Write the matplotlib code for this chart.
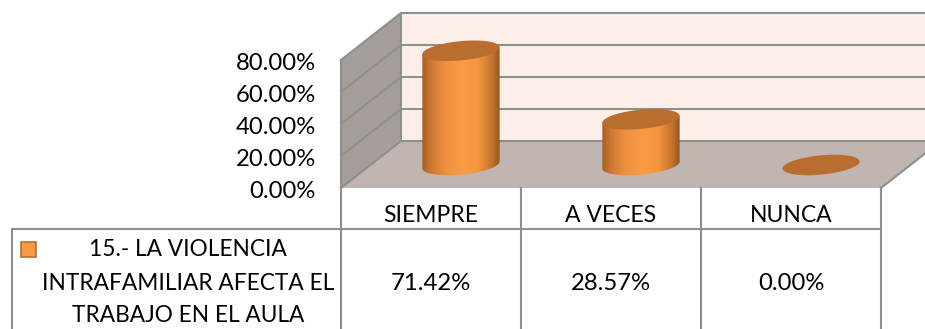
import numpy as np
import matplotlib
matplotlib.use("Agg")
import matplotlib.pyplot as plt
from matplotlib.colors import LinearSegmentedColormap
from matplotlib.patches import Ellipse, Polygon, Rectangle
from matplotlib.path import Path

categories = ["SIEMPRE", "A VECES", "NUNCA"]
values = [71.42, 28.57, 0.0]
value_labels = ["71.42%", "28.57%", "0.00%"]
ticks = [0, 20, 40, 60, 80]
legend_lines = ["15.- LA VIOLENCIA", "INTRAFAMILIAR AFECTA EL", "TRABAJO EN EL AULA"]

plt.rcParams["font.family"] = ["Lato", "DejaVu Sans"]
fs = 16.5
fs_legend = 16.25
fs_num = 17.2

# everything is laid out in image pixels, y going down
fig = plt.figure(figsize=(9.25, 3.29), dpi=100)
ax = fig.add_axes([0, 0, 1, 1])
ax.set_xlim(0, 925)
ax.set_ylim(329, 0)
ax.axis("off")

x0, x1 = 341, 881
floor_y = 188
dx, dy = 60, 47
px_per_unit = 1.6
cell = (x1 - x0) / len(categories)
grey = "#8f8f8f"

wall_top = floor_y - dy - max(ticks) * px_per_unit
back_y = floor_y - dy

# walls and floor
ax.add_patch(Polygon([(x0 + dx, wall_top), (x1 + dx, wall_top), (x1 + dx, back_y), (x0 + dx, back_y)],
                     fc="#fdefe8", ec="none"))
ax.add_patch(Polygon([(x0, floor_y - max(ticks) * px_per_unit), (x0 + dx, wall_top),
                      (x0 + dx, back_y), (x0, floor_y)], fc="#a59e9a", ec="none"))
ax.add_patch(Polygon([(x0, floor_y), (x1, floor_y), (x1 + dx, back_y), (x0 + dx, back_y)],
                     fc="#bfb5b1", ec="none"))

for t in ticks:
    h = t * px_per_unit
    ax.plot([x0, x0 + dx, x1 + dx], [floor_y - h, back_y - h, back_y - h], color=grey, lw=1.5,
            solid_joinstyle="miter", zorder=2)
    ax.text(316, floor_y + 3 - h, f"{t:.2f}%", ha="right", va="center", fontsize=fs_num, color="black")
ax.plot([x0, x0], [floor_y, floor_y - max(ticks) * px_per_unit], color=grey, lw=1.5, zorder=2)
ax.plot([x0 + dx, x0 + dx], [back_y, wall_top], color=grey, lw=1.5, zorder=2)
ax.plot([x1, x1 + dx], [floor_y, back_y], color=grey, lw=1.5, zorder=2)

# cylinders
a, b, tilt = 38.8, 9.6, np.radians(5.5)
bar_cmap = LinearSegmentedColormap.from_list("cyl", [
    (0.0, "#a65e20"), (0.1, "#c87631"), (0.3, "#ef9040"), (0.5, "#f99b45"),
    (0.72, "#f5953f"), (0.9, "#c4742e"), (1.0, "#965520")])


def ell_pts(cx, cy, n=181):
    t = np.linspace(0, 2 * np.pi, n)
    x = cx + a * np.cos(t) * np.cos(tilt) + b * np.sin(t) * np.sin(tilt)
    y = cy - a * np.cos(t) * np.sin(tilt) + b * np.sin(t) * np.cos(tilt)
    return x, y


base_y = floor_y - 23
for i, v in enumerate(values):
    cx = x0 + cell * (i + 0.5) + dx / 2
    h = v * px_per_unit
    if v > 0:
        ex, ey = ell_pts(cx, base_y)
        lo = (ex * 1000 - ey).argmin()
        hi = (ex * 1000 - ey).argmax()
        # lower half of the bottom ellipse, going round from right to left
        idx = np.arange(hi, lo + 1) if hi < lo else np.r_[hi:len(ex), 0:lo + 1]
        side = np.column_stack([ex[idx], ey[idx]])
        outline = np.vstack([side, [ex[lo], ey[lo] - h], [ex[hi], ey[hi] - h], side[:1]])
        grad = ax.imshow(np.linspace(0, 1, 256)[None, :], cmap=bar_cmap, aspect="auto",
                         extent=[ex.min(), ex.max(), base_y + 14, base_y - h - 14], zorder=3)
        grad.set_clip_path(Path(outline), transform=ax.transData)
    ax.add_patch(Ellipse((cx, base_y - h), 2 * a, 2 * b, angle=-np.degrees(tilt),
                         fc="#b96e2f", ec="none", zorder=4))

ax.set_xlim(0, 925)
ax.set_ylim(329, 0)

# data table
table_y = 229
ax.plot([12, x1], [table_y, table_y], color=grey, lw=1.5, zorder=2)
ax.plot([12, 12], [table_y, 329], color=grey, lw=1.5, zorder=2)
for i in range(len(categories) + 1):
    xv = x0 + cell * i
    ax.plot([xv, xv], [floor_y, 329], color=grey, lw=1.5, zorder=2)
for i, (c, lab) in enumerate(zip(categories, value_labels)):
    xc = x0 + cell * (i + 0.5)
    ax.text(xc, 215, c, ha="center", va="center", fontsize=fs)
    ax.text(xc, 284, lab, ha="center", va="center", fontsize=fs_num)

ax.add_patch(Rectangle((21, 242), 15, 15, fc="#f79a45", ec="#b96e2f", lw=1.2, zorder=3))
for line, yy in zip(legend_lines, [250, 283, 316]):
    ax.text(188, yy, line, ha="center", va="center", fontsize=fs_legend)

fig.savefig("out.png", dpi=100)
